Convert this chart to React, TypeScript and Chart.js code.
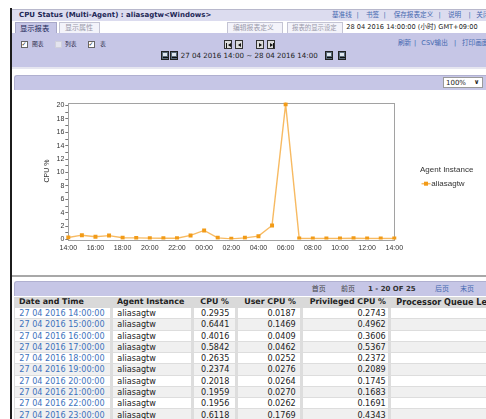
import React, { useEffect, useRef } from "react";
import { Chart, registerables } from "chart.js";

Chart.register(...registerables);

// ---------- data ----------
const hourLabels = [
  "14:00", "15:00", "16:00", "17:00", "18:00", "19:00", "20:00", "21:00", "22:00", "23:00",
  "00:00", "01:00", "02:00", "03:00", "04:00", "05:00", "06:00", "07:00", "08:00", "09:00",
  "10:00", "11:00", "12:00", "13:00", "14:00",
];
const cpuSeries = [
  0.2935, 0.6441, 0.4016, 0.5842, 0.2635, 0.2374, 0.2018, 0.1959, 0.1956, 0.6118,
  1.35, 0.25, 0.1, 0.25, 0.5, 2.1, 20.2, 0.15, 0.15, 0.15,
  0.15, 0.18, 0.15, 0.15, 0.15,
];
const yTickValues = [0, 1, 2, 3, 4, 5, 6, 7, 8, 9, 10, 11, 12, 13, 14, 15, 16, 17, 18, 19, 20];
const yAxisMax = 20.45;
const seriesName = "aliasagtw";
const legendTitle = "Agent Instance";
const yTitle = "CPU %";

const tableTimes = [
  "27 04 2016 14:00:00", "27 04 2016 15:00:00", "27 04 2016 16:00:00", "27 04 2016 17:00:00",
  "27 04 2016 18:00:00", "27 04 2016 19:00:00", "27 04 2016 20:00:00", "27 04 2016 21:00:00",
  "27 04 2016 22:00:00", "27 04 2016 23:00:00",
];
const tableCpu = [0.2935, 0.6441, 0.4016, 0.5842, 0.2635, 0.2374, 0.2018, 0.1959, 0.1956, 0.6118];
const tableUser = [0.0187, 0.1469, 0.0409, 0.0462, 0.0252, 0.0276, 0.0264, 0.027, 0.0262, 0.1769];
const tablePriv = [0.2743, 0.4962, 0.3606, 0.5367, 0.2372, 0.2089, 0.1745, 0.1683, 0.1691, 0.4343];
const tableHeaders = ["Date and Time", "Agent Instance", "CPU %", "User CPU %", "Privileged CPU %", "Processor Queue Length"];

// ---------- styles ----------
const W = 486;
const H = 419;
const LAV = "#c6c6e6";
const LINK = "#4468b0";
const PAGE_FONT = '"DejaVu Sans", "Noto Sans CJK SC", sans-serif';
const CHART_FONT = '"Liberation Sans", Arial, sans-serif';
const LINE_COLOR = "rgba(247,182,90,0.95)";
const POINT_COLOR = "#f29b17";

function T(props: any) {
  const { x, cy, s = 7, c = "#222", b = false, right = false, children, f } = props;
  const h = Math.round(s * 2);
  const style: any = {
    position: "absolute",
    top: cy - h / 2,
    height: h,
    lineHeight: h + "px",
    fontSize: s,
    color: c,
    fontWeight: b ? "bold" : "normal",
    whiteSpace: "nowrap",
    fontFamily: f || PAGE_FONT,
  };
  if (right) style.right = W - x;
  else style.left = x;
  return <div style={style}>{children}</div>;
}

function B(props: any) {
  const { x, y, w, h, bg, st } = props;
  return <div style={{ position: "absolute", left: x, top: y, width: w, height: h, background: bg, boxSizing: "border-box", ...(st || {}) }}>{props.children}</div>;
}

function CheckBox({ x, cy, checked }: any) {
  return (
    <B x={x} y={cy - 3.5} w={7} h={7} bg={checked ? "#fff" : "#e4e4ee"} st={{ border: checked ? "1px solid #666" : "1px solid #d0d0dc" }}>
      {checked ? (
        <div style={{ position: "absolute", left: 0, top: -3, fontSize: 6, lineHeight: "10px", color: "#222", fontFamily: PAGE_FONT }}>✓</div>
      ) : null}
    </B>
  );
}

function NavBtn({ x, dir, bar }: any) {
  const tri: any = {
    position: "absolute",
    top: 2,
    width: 0,
    height: 0,
    borderTop: "2.5px solid transparent",
    borderBottom: "2.5px solid transparent",
  };
  if (dir === "l") {
    tri.left = bar ? 3 : 2;
    tri.borderRight = "3px solid #111";
  } else {
    tri.left = 2;
    tri.borderLeft = "3px solid #111";
  }
  return (
    <B x={x} y={40} w={8} h={9} bg="#dcdcdc" st={{ border: "1px solid #333" }}>
      {bar ? <div style={{ position: "absolute", top: 2, left: dir === "l" ? 1 : 5, width: 1, height: 5, background: "#111" }} /> : null}
      <div style={tri} />
    </B>
  );
}

function Icon({ x }: any) {
  return (
    <B x={x} y={51} w={8} h={9} bg="#5a6a7a" st={{ border: "1px solid #222" }}>
      <div style={{ position: "absolute", left: 1, top: 1, width: 4, height: 3, background: "#dfe6ee" }} />
      <div style={{ position: "absolute", left: 1, top: 5, width: 5, height: 1, background: "#111" }} />
    </B>
  );
}

// ---------- chart plugins ----------
const plotFrame = {
  id: "plotFrame",
  beforeDatasetsDraw(chart: any) {
    const { ctx, chartArea } = chart;
    ctx.save();
    ctx.strokeStyle = "#a2a2a2";
    ctx.lineWidth = 1;
    const l = Math.round(chartArea.left) + 0.5;
    const t = Math.round(chartArea.top) + 0.5;
    const r = Math.round(chartArea.right) + 0.5;
    const b = Math.round(chartArea.bottom) + 0.5;
    ctx.strokeRect(l, t, r - l, b - t);
    ctx.restore();
  },
};

const sideLegend = {
  id: "sideLegend",
  afterDraw(chart: any) {
    const { ctx, chartArea } = chart;
    const ds = chart.data.datasets[0];
    const x0 = chartArea.right + 25.7;
    const midY = (chartArea.top + chartArea.bottom) / 2;
    ctx.save();
    ctx.font = '8px "Liberation Sans", Arial, sans-serif';
    ctx.fillStyle = "#333";
    ctx.textBaseline = "middle";
    ctx.textAlign = "left";
    ctx.fillText(legendTitle, x0, midY - 1);
    const iy = midY + 12.7;
    ctx.strokeStyle = ds.borderColor;
    ctx.lineWidth = 1.5;
    ctx.beginPath();
    ctx.moveTo(x0 + 1.5, iy);
    ctx.lineTo(x0 + 10.5, iy);
    ctx.stroke();
    ctx.fillStyle = ds.pointBackgroundColor;
    ctx.fillRect(x0 + 4, iy - 2, 4, 4);
    ctx.fillStyle = "#333";
    ctx.fillText(ds.label, x0 + 11.3, iy);
    ctx.restore();
  },
};

function CpuChart() {
  const ref = useRef<HTMLCanvasElement | null>(null);
  useEffect(() => {
    if (!ref.current) return;
    const tickFont = { family: CHART_FONT, size: 7 };
    const chart = new Chart(ref.current, {
      type: "line",
      data: {
        labels: hourLabels,
        datasets: [
          {
            label: seriesName,
            data: cpuSeries,
            borderColor: LINE_COLOR,
            backgroundColor: POINT_COLOR,
            pointBackgroundColor: POINT_COLOR,
            pointBorderColor: POINT_COLOR,
            pointBorderWidth: 0,
            pointStyle: "rect",
            pointRadius: 2.8,
            borderWidth: 1.4,
            tension: 0,
            fill: false,
          },
        ],
      },
      options: {
        responsive: false,
        animation: false,
        devicePixelRatio: 1,
        layout: { padding: { left: 26, top: 12.5, right: 91.7, bottom: 12.5 } },
        plugins: { legend: { display: false }, tooltip: { enabled: false } },
        scales: {
          x: {
            type: "category",
            offset: false,
            grid: { display: false, drawTicks: false },
            border: { display: false },
            ticks: {
              autoSkip: false,
              maxRotation: 0,
              minRotation: 0,
              padding: 4.8,
              color: "#333",
              font: tickFont,
              callback: function (this: any, v: any, i: number) {
                return i % 2 === 0 ? hourLabels[i] : "";
              },
            },
            afterFit: (s: any) => {
              s.height = 20;
            },
          },
          y: {
            min: 0,
            max: yAxisMax,
            afterBuildTicks: (s: any) => {
              s.ticks = yTickValues.map((v) => ({ value: v }));
            },
            grid: { drawOnChartArea: false, drawTicks: true, tickLength: 3, color: "#777" },
            border: { display: false },
            ticks: {
              padding: 1,
              color: "#333",
              font: tickFont,
              autoSkip: false,
              callback: (v: any) => (Number(v) % 2 === 0 ? String(v) : ""),
            },
            title: {
              display: true,
              text: yTitle,
              color: "#333",
              font: { family: CHART_FONT, size: 7 },
              padding: { top: 2.6, bottom: 0 },
            },
            afterFit: (s: any) => {
              s.width = 28.3;
            },
          },
        },
      },
      plugins: [plotFrame, sideLegend],
    } as any);
    return () => chart.destroy();
  }, []);
  return <canvas ref={ref} width={472} height={182} style={{ position: "absolute", left: 14, top: 90, width: 472, height: 182 }} />;
}

export default function App() {
  const colCells = [
    [15, 110],
    [113, 191],
    [194, 235],
    [238, 300],
    [303, 388],
    [391, 486],
  ];
  const rowH = 11.27;
  const rowTop0 = 307.5;
  return (
    <div style={{ position: "fixed", left: 0, top: 0, width: W, height: H, overflow: "hidden", background: "#fff", fontFamily: PAGE_FONT }}>
      {/* left frame line */}
      <B x={10} y={8} w={2} h={H} bg="#1c1c1c" />

      {/* title bar */}
      <B x={12} y={8.5} w={474} h={12.5} bg="#dcdcef" st={{ borderTop: "1px solid #b8b8cc" }} />
      <T x={19} cy={15.3} s={7} b c="#1e2756">CPU Status (Multi-Agent) : aliasagtw&lt;Windows&gt;</T>
      <T x={332} cy={15} s={6.6} c={LINK}>基准线</T>
      <T x={356.5} cy={15} s={6.6} c={LINK}>|</T>
      <T x={366} cy={15} s={6.6} c={LINK}>书签</T>
      <T x={383.5} cy={15} s={6.6} c={LINK}>|</T>
      <T x={393.7} cy={15} s={6.6} c={LINK}>保存报表定义</T>
      <T x={438.5} cy={15} s={6.6} c={LINK}>|</T>
      <T x={448} cy={15} s={6.6} c={LINK}>说明</T>
      <T x={468.5} cy={15} s={6.6} c={LINK}>|</T>
      <T x={476.3} cy={15} s={6.6} c={LINK}>关闭</T>

      {/* tab row */}
      <B x={12} y={21} w={474} h={12} bg="#fff" />
      <B x={15} y={22} w={42} h={12} bg={LAV} st={{ border: "1px solid #a8a8c8", borderBottom: "none" }} />
      <T x={20} cy={28.3} s={7.3} c="#23295a">显示报表</T>
      <B x={59} y={22} w={41} h={11} bg="#f3f3fa" st={{ border: "1px solid #c4c4d4", borderBottom: "none" }} />
      <T x={65} cy={28.3} s={7} c="#9a9aaa">显示属性</T>
      <B x={227} y={22} w={56} h={11} bg="#f3f3fa" st={{ border: "1px solid #c4c4d4", borderBottom: "none" }} />
      <T x={233} cy={28.3} s={6.8} c="#9a9aaa">编辑报表定义</T>
      <B x={287} y={22} w={56} h={11} bg="#f3f3fa" st={{ border: "1px solid #c4c4d4", borderBottom: "none" }} />
      <T x={292} cy={28.3} s={6.4} c="#9a9aaa">报表的显示设定</T>
      <T x={346.3} cy={27.5} s={6.6} c="#222">28 04 2016 14:00:00 (小时) GMT+09:00</T>

      {/* toolbar */}
      <B x={12} y={33} w={474} h={33.5} bg={LAV} />
      <CheckBox x={20.5} cy={44} checked />
      <T x={32} cy={44} s={5.8} c="#2a2a4a">图表</T>
      <CheckBox x={55} cy={44} checked={false} />
      <T x={65} cy={44} s={5.8} c="#2a2a4a">列表</T>
      <CheckBox x={87.5} cy={44} checked />
      <T x={100} cy={44} s={5.8} c="#2a2a4a">表</T>
      <NavBtn x={224} dir="l" bar />
      <NavBtn x={235} dir="l" />
      <NavBtn x={256} dir="r" />
      <NavBtn x={267} dir="r" bar />
      <Icon x={160.5} />
      <Icon x={170} />
      <T x={180.7} cy={55.8} s={7.1} c="#222">27 04 2016 14:00 ~ 28 04 2016 14:00</T>
      <Icon x={325} />
      <Icon x={338} />
      <T x={398} cy={43.5} s={6.6} c={LINK}>刷新</T>
      <T x={414} cy={43.5} s={6.6} c={LINK}>|</T>
      <T x={421.3} cy={43.5} s={6.6} c={LINK}>CSV输出</T>
      <T x={454} cy={43.5} s={6.6} c={LINK}>|</T>
      <T x={462} cy={43.5} s={6.6} c={LINK}>打印画面</T>
      <B x={12} y={66.5} w={474} h={2} bg="#e6e6f0" />

      {/* chart header bar */}
      <B x={14} y={75} w={472} h={15} bg={LAV} st={{ borderTop: "1px solid #b0b0d0", borderLeft: "1px solid #b0b0d0", borderTopLeftRadius: 3 }} />
      <B x={442.7} y={77.3} w={40} h={10.5} bg="#fff" st={{ border: "1px solid #9a9a9a" }} />
      <T x={446} cy={82.5} s={7} c="#222">100%</T>
      <T x={474} cy={82.3} s={6.5} c="#222" b>∨</T>

      {/* chart */}
      <CpuChart />

      {/* separator */}
      <B x={12} y={275} w={474} h={2} bg="#a8a8a8" />

      {/* pagination bar */}
      <B x={14} y={281} w={472} h={15} bg={LAV} st={{ borderTop: "1px solid #b0b0d0", borderLeft: "1px solid #b0b0d0", borderTopLeftRadius: 3 }} />
      <T x={311.7} cy={289} s={7} c="#444">首页</T>
      <T x={341} cy={289} s={7} c="#444">前页</T>
      <T x={368} cy={289} s={7} b c="#333">1 - 20 OF 25</T>
      <T x={435} cy={289} s={7} c={LINK}>后页</T>
      <T x={460} cy={289} s={7} c={LINK}>末页</T>

      {/* table header */}
      <B x={14} y={296.5} w={472} h={11} bg="#d9d9d9" />
      <T x={19} cy={301.7} s={7.9} b c="#222">{tableHeaders[0]}</T>
      <T x={117} cy={301.7} s={7.9} b c="#222">{tableHeaders[1]}</T>
      <T x={229} cy={301.7} s={7.9} b c="#222" right>{tableHeaders[2]}</T>
      <T x={296} cy={301.7} s={7.9} b c="#222" right>{tableHeaders[3]}</T>
      <T x={386} cy={301.7} s={7.9} b c="#222" right>{tableHeaders[4]}</T>
      <T x={396.3} cy={301.7} s={8.1} b c="#222">{tableHeaders[5]}</T>

      {/* table rows */}
      <B x={14} y={307.5} w={472} h={H - 307.5} bg="#dddddd" />
      {tableTimes.map((t, i) => {
        const top = rowTop0 + i * rowH;
        const cy = top + rowH / 2;
        const bg = i % 2 === 0 ? "#ffffff" : "#f0f0f0";
        return (
          <React.Fragment key={i}>
            {colCells.map((cc, j) => (
              <B key={j} x={cc[0]} y={top + 0.5} w={cc[1] - cc[0]} h={rowH - 1} bg={bg} />
            ))}
            <T x={19.3} cy={cy} s={8.1} c="#3d72bd">{t}</T>
            <T x={117.3} cy={cy} s={8.1} c="#222">{seriesName}</T>
            <T x={229.3} cy={cy} s={8.1} c="#222" right>{tableCpu[i].toFixed(4)}</T>
            <T x={295.7} cy={cy} s={8.1} c="#222" right>{tableUser[i].toFixed(4)}</T>
            <T x={385.7} cy={cy} s={8.1} c="#222" right>{tablePriv[i].toFixed(4)}</T>
          </React.Fragment>
        );
      })}
    </div>
  );
}
